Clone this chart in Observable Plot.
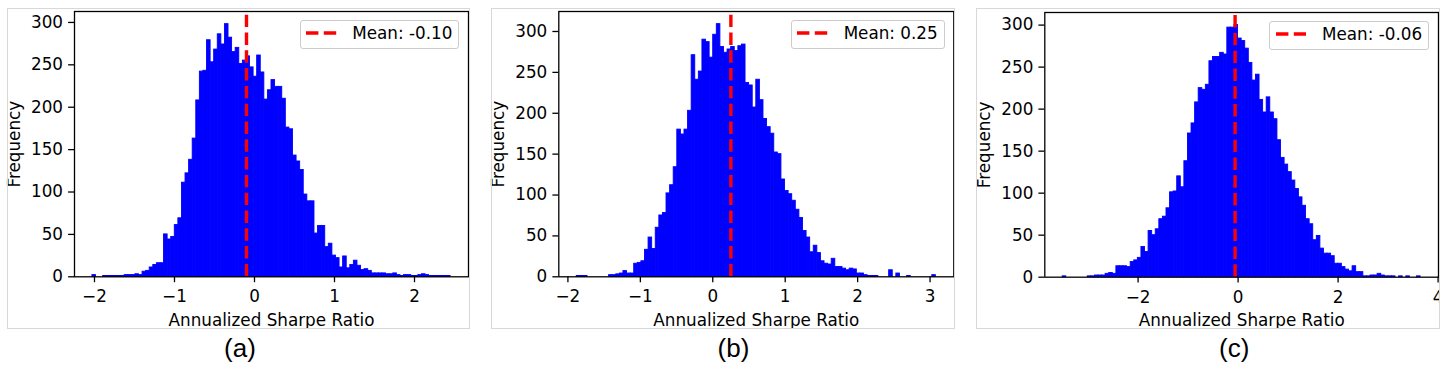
<!DOCTYPE html>
<html><head><meta charset="utf-8">
<script src="https://cdn.jsdelivr.net/npm/d3@7"></script>
<script src="https://cdn.jsdelivr.net/npm/@observablehq/plot@0.6"></script>
<style>
html,body{margin:0;padding:0;background:#fff;}
#root{position:relative;width:1446px;height:366px;overflow:hidden;font-family:'DejaVu Sans',sans-serif;}
.box{position:absolute;border:1px solid #d8d8d8;box-sizing:border-box;pointer-events:none;}
.legend{position:absolute;display:flex;align-items:center;height:29.3px;box-sizing:border-box;
  padding:0 5.9px 2.6px 5.6px;border:1px solid #cccccc;border-radius:3px;background:rgba(255,255,255,0.8);
  font-family:'DejaVu Sans',sans-serif;font-size:16.8px;color:#000;white-space:nowrap;}
.legend span{margin-left:15.5px;}
.legend svg{display:block;}
.cap{position:absolute;font-family:'Liberation Sans',Arial,sans-serif;font-size:26px;line-height:26px;width:100px;text-align:center;color:#000;}
</style></head>
<body><div id="root"></div>
<script>
// ---- data ----
const binCountsA = [2,0,0,1,1,1,1,1,1,2, 2,2,3,2,6,7,11,14,16,16,
  50,44,47,61,69,111,122,138,163,208, 242,243,279,253,268,286,274,298,282,265,
  270,251,255,260,247,236,261,241,209,220, 232,224,224,210,176,174,143,136,126,97,
  89,89,51,60,60,35,39,25,22,11, 24,10,14,19,13,8,9,7,4,4,
  4,4,3,3,4,2,1,2,2,1, 1,2,3,2,1,1,1,1,1,1];
const binCountsB = [1,1,1,0,0,0,0,0,0,2, 2,3,4,7,4,4,16,17,19,33,
  48,34,60,75,78,102,112,134,180,174, 180,203,271,241,251,290,287,268,296,309,
  281,274,278,281,276,282,284,237,234,207, 241,216,193,183,175,152,150,119,105,101,
  93,82,72,56,48,30,38,29,19,16, 15,22,12,12,10,8,10,9,4,4,
  2,1,1,1,0,0,0,8,0,4, 0,0,1,0,0,0,0,0,0,2];
const binCountsC = [1,0,0,0,0,0,0,1,1,2, 2,2,4,5,4,13,13,13,12,18,
  20,23,36,30,55,50,57,69,72,82, 101,102,120,107,138,171,183,208,225,223,
  229,257,262,262,267,265,297,297,300,284, 281,272,255,234,241,211,196,214,196,188,
  163,142,134,125,115,105,95,85,69,63, 44,49,34,28,28,25,16,16,12,9,
  7,13,6,6,1,1,2,2,4,2, 1,1,1,0,1,0,1,0,0,1];
const dataRangeA = [-2.026, 2.451];
const dataRangeB = [-1.878, 3.080];
const dataRangeC = [-3.508, 3.650];
const meanValues = [-0.10, 0.25, -0.06];
const xTicksA = [-2, -1, 0, 1, 2];
const xTicksB = [-2, -1, 0, 1, 2, 3];
const xTicksC = [-2, 0, 2, 4];
const yTicks = [0, 50, 100, 150, 200, 250, 300];
const captionLabels = ["(a)", "(b)", "(c)"];
const xAxisLabel = "Annualized Sharpe Ratio";
const yAxisLabel = "Frequency";

// ---- layout (page pixels) ----
const layout = [
  {box:[7,8.3,470,329],     frame:[74,11,468,276.3],     cap:240},
  {box:[491,8.3,955,329],   frame:[558.3,11,953.3,276.3], cap:733.5},
  {box:[975.7,8.3,1440,329],frame:[1044,12,1437.7,276.7], cap:1234.2}
];
const extraLeft = 6; // svg starts a little left of the gray box so nothing is clipped

const fmtTick = d => (d < 0 ? "\u2212" : "") + String(Math.abs(d));

const root = document.getElementById("root");
const series = [
  [binCountsA, dataRangeA, xTicksA],
  [binCountsB, dataRangeB, xTicksB],
  [binCountsC, dataRangeC, xTicksC]
];

series.forEach(([counts, range, xt], k) => {
  const L = layout[k];
  const mean = meanValues[k];
  const [lo, hi] = range;
  const n = counts.length, w = (hi - lo) / n;
  const bins = counts.map((c, i) => ({x1: lo + i * w, x2: lo + (i + 1) * w, count: c}));
  const pad = 0.05 * (hi - lo);
  const ymax = 1.05 * d3.max(counts);
  const [bl, bt, br, bb] = L.box;
  const [fl, ft, fr, fb] = L.frame;
  const sl = bl - extraLeft;
  const W = br - sl, H = bb;
  const svg = Plot.plot({
    width: W, height: H,
    marginLeft: fl - sl, marginRight: br - fr, marginTop: ft, marginBottom: H - fb,
    x: {domain: [lo - pad, hi + pad]},
    y: {domain: [0, ymax]},
    style: {fontFamily: "'DejaVu Sans', sans-serif", fontSize: "16.8px", color: "black", overflow: "hidden"},
    marks: [
      Plot.rectY(bins, {x1: "x1", x2: "x2", y: "count", fill: "#0000ff", stroke: "#0000ff", strokeWidth: 0.9}),
      Plot.ruleX([mean], {x: d => d, y1: 0, y2: ymax, stroke: "#ff0000", strokeWidth: 3.4, strokeDasharray: "12.4,5.4"}),
      Plot.frame({stroke: "black", strokeWidth: 1.3}),
      Plot.axisX({ticks: xt, tickFormat: fmtTick, tickSize: 5.9, tickPadding: 7.6, label: null, strokeWidth: 1.3}),
      Plot.axisY({ticks: yTicks, tickFormat: fmtTick, tickSize: 5.9, tickPadding: 5.6, label: null, strokeWidth: 1.3}),
      Plot.text([xAxisLabel], {text: d => d, frameAnchor: "bottom", dy: 48.7, lineAnchor: "bottom", fontSize: 16.8}),
      Plot.text([yAxisLabel], {text: d => d, frameAnchor: "left", rotate: -90, dx: -54.4, lineAnchor: "bottom", textAnchor: "middle", fontSize: 16.8})
    ]
  });
  svg.style.position = "absolute";
  svg.style.left = sl + "px";
  svg.style.top = "0px";
  svg.style.maxWidth = "none";
  root.appendChild(svg);

  const box = document.createElement("div");
  box.className = "box";
  box.style.left = bl + "px"; box.style.top = bt + "px";
  box.style.width = (br - bl) + "px"; box.style.height = (bb - bt) + "px";
  root.appendChild(box);

  const leg = document.createElement("div");
  leg.className = "legend";
  leg.style.right = (1446 - (fr - 8.7)) + "px";
  leg.style.top = (ft + 8.7) + "px";
  leg.innerHTML = '<svg width="30.7" height="8"><line x1="0" y1="4" x2="30.7" y2="4" stroke="#ff0000" stroke-width="3.4" stroke-dasharray="12.4,5.4"/></svg>' +
    '<span>Mean: ' + mean.toFixed(2) + '</span>';
  root.appendChild(leg);

  const cap = document.createElement("div");
  cap.className = "cap";
  cap.style.left = (L.cap - 50) + "px";
  cap.style.top = "335px";
  cap.textContent = captionLabels[k];
  root.appendChild(cap);
});
</script></body></html>
